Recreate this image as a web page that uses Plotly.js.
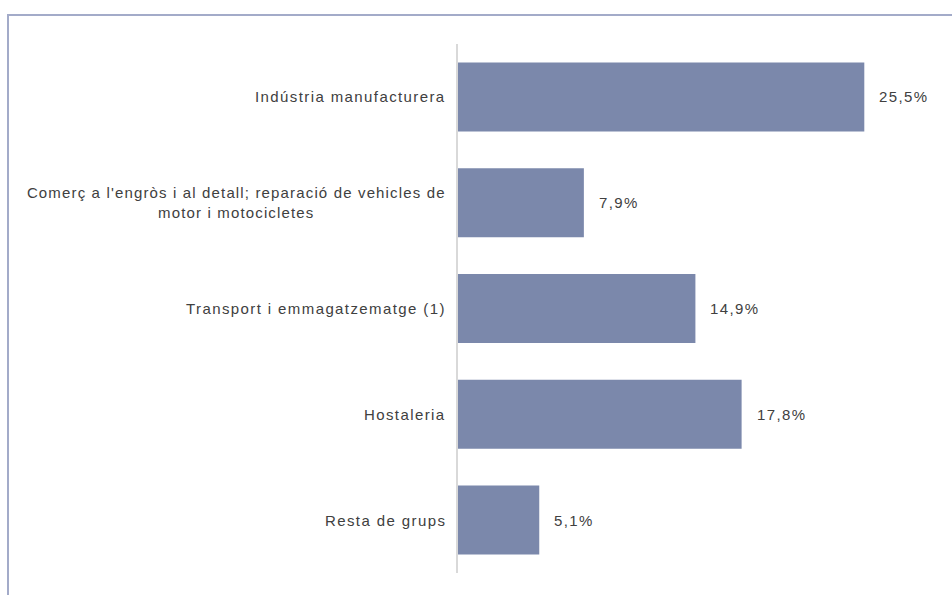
<!DOCTYPE html>
<html>
<head>
<meta charset="utf-8">
<script src="https://cdn.plot.ly/plotly-3.0.1.min.js"></script>
<style>
html,body{margin:0;padding:0;background:#fff;}
#wrap{position:relative;width:952px;height:595px;overflow:hidden;}
#frame{position:absolute;left:7px;top:14px;width:1000px;height:700px;border-top:2px solid #a3abc9;border-left:2px solid #a3abc9;box-sizing:border-box;pointer-events:none;}
#chart{position:absolute;left:0;top:0;width:952px;height:595px;}
.annotation-text{letter-spacing:1.4px;}
g.annotation[data-index="2"] .annotation-text{letter-spacing:1.15px;}
</style>
</head>
<body>
<div id="wrap">
<div id="chart"></div>
<div id="frame"></div>
</div>
<script>
const categories = [
  "Indústria manufacturera",
  "Comerç a l'engròs i al detall; reparació de vehicles de<br>motor i motocicletes",
  "Transport i emmagatzematge (1)",
  "Hostaleria",
  "Resta de grups"
];
const values = [25.5, 7.9, 14.9, 17.8, 5.1];
const valueLabels = values.map(v => v.toFixed(1).replace('.', ',') + '%');

const ids = categories.map((c, i) => 'c' + i);
const fontFam = '"Liberation Sans", Arial, sans-serif';

const trace = {
  type: 'bar',
  orientation: 'h',
  y: ids,
  x: values,
  marker: {color: '#7b88ab', line: {width: 0}},
  hoverinfo: 'none'
};

const annotations = [];
ids.forEach((id, i) => {
  annotations.push({
    x: 0, y: id, xref: 'x', yref: 'y',
    text: categories[i], showarrow: false,
    xanchor: 'right', align: 'center', xshift: (i === 1 ? -3 : -10),
    font: {family: fontFam, size: 15, color: '#404040'}
  });
  annotations.push({
    x: values[i], y: id, xref: 'x', yref: 'y',
    text: valueLabels[i], showarrow: false,
    xanchor: 'left', xshift: 13,
    font: {family: fontFam, size: 15, color: '#404040'}
  });
});

const layout = {
  width: 952, height: 595,
  margin: {l: 458, r: 16, t: 44, b: 22},
  paper_bgcolor: 'rgba(0,0,0,0)',
  plot_bgcolor: 'rgba(0,0,0,0)',
  showlegend: false,
  bargap: 0.348,
  xaxis: {range: [0, 30], showgrid: false, zeroline: false, showticklabels: false, showline: false, ticks: ''},
  yaxis: {autorange: 'reversed', type: 'category', showgrid: false, zeroline: false, showticklabels: false,
          showline: true, linecolor: '#d9d9d9', linewidth: 2, ticks: ''},
  annotations: annotations
};

Plotly.newPlot('chart', [trace], layout, {displayModeBar: false, staticPlot: true});
</script>
</body>
</html>
